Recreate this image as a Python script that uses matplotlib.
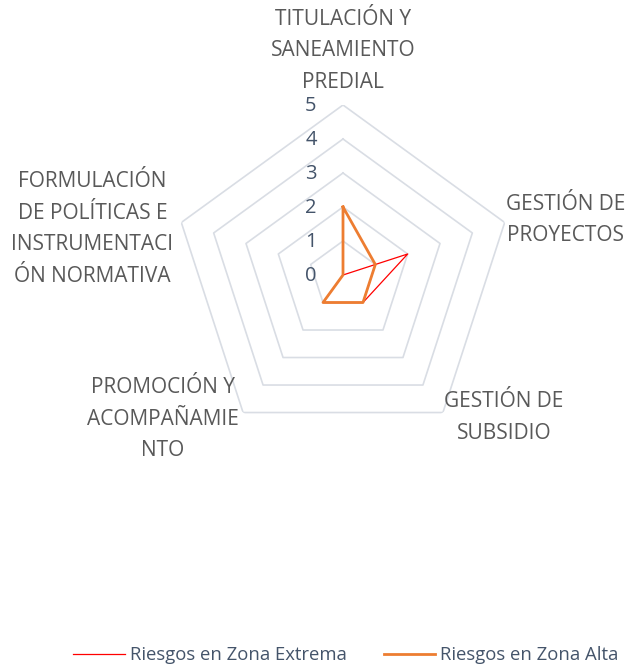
import numpy as np
import matplotlib
matplotlib.use("Agg")
import matplotlib.pyplot as plt
import matplotlib.transforms as mtrans
from matplotlib.lines import Line2D

categories = ["TITULACIÓN Y\nSANEAMIENTO\nPREDIAL", "GESTIÓN DE\nPROYECTOS",
              "GESTIÓN DE\nSUBSIDIO", "PROMOCIÓN Y\nACOMPAÑAMIE\nNTO",
              "FORMULACIÓN\nDE POLÍTICAS E\nINSTRUMENTACI\nÓN NORMATIVA"]
extrema = [0, 2, 1, 1, 0]
alta = [2, 1, 1, 1, 0]
ticks = [0, 1, 2, 3, 4, 5]
series_names = ["Riesgos en Zona Extrema", "Riesgos en Zona Alta"]

plt.rcParams['font.family'] = ['Open Sans', 'DejaVu Sans']

W, H = 631, 665
fig = plt.figure(figsize=(W / 100, H / 100), dpi=100)
cx, cy, R = 343, 275, 170
ax = fig.add_axes([(cx - R) / W, (H - cy - R) / H, 2 * R / W, 2 * R / H], projection='polar')
ax.set_theta_offset(np.pi / 2)
ax.set_theta_direction(-1)
ax.set_ylim(0, 5)
ax.set_axis_off()

n = len(categories)
ang = np.linspace(0, 2 * np.pi, n, endpoint=False)
ang_c = np.concatenate([ang, ang[:1]])

grid_col = '#D9DDE4'
for t in ticks[1:]:
    ax.plot(ang_c, [t] * (n + 1), color=grid_col, lw=1.2, zorder=1)

ax.plot(ang_c, extrema + extrema[:1], color='#FF0000', lw=0.9, zorder=3)
ax.plot(ang_c, alta + alta[:1], color='#ED7D31', lw=2.0, zorder=4)

for t in ticks:
    tr = mtrans.offset_copy(ax.transData, fig=fig, x=-32, y=-1, units='dots')
    ax.text(0, t, str(t), transform=tr, ha='center', va='center', fontsize=14.5,
            color='#44546A')

lab_col = '#595959'
offsets = [(0, 54), (61, 2.5), (61, -5), (-80.5, -6.5), (-89, -6.5)]
for a, lab, (dx, dy) in zip(ang, categories, offsets):
    tr = mtrans.offset_copy(ax.transData, fig=fig, x=dx, y=dy, units='dots')
    ax.text(a, 5, lab, transform=tr, ha='center', va='center', fontsize=15,
            color=lab_col, linespacing=1.66)

handles = [Line2D([], [], color='#FF0000', lw=0.9), Line2D([], [], color='#ED7D31', lw=2.0)]
fig.legend(handles, series_names, loc='center', bbox_to_anchor=(0.548, 1 - 655 / H),
           ncol=2, frameon=False, fontsize=13.3, handlelength=2.8, handletextpad=0.27,
           columnspacing=2.0, labelcolor='#44546A')

fig.savefig('out.png', dpi=100)
